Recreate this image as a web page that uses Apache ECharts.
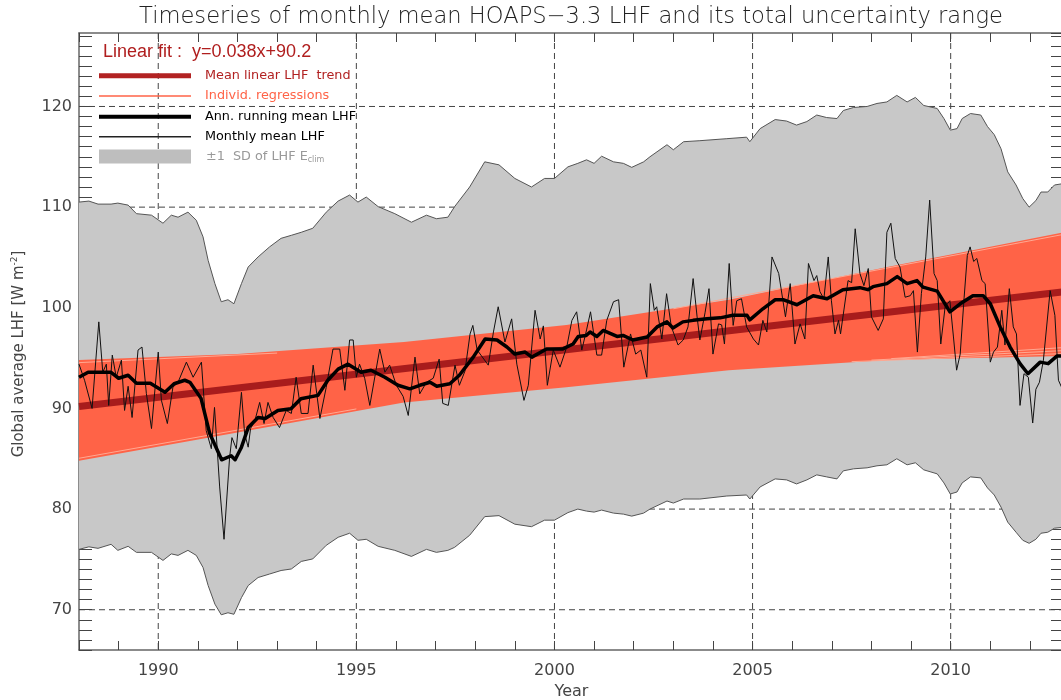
<!DOCTYPE html>
<html><head><meta charset="utf-8">
<script src="https://cdn.jsdelivr.net/npm/echarts@6/dist/echarts.min.js"></script>
<style>html,body{margin:0;padding:0;overflow:hidden;background:#fff}#c{width:1066px;height:700px}</style>
</head><body><div id="c"></div>
<script>
// ---------------- data ----------------
const xRange = [1988, 2012.86];
const yRange = [66, 127.3];
const gridYears = [1990, 1995, 2000, 2005, 2010];
const gridValues = [70, 80, 90, 100, 110, 120];

// ±1 SD band (upper / lower edge)
const bandX = [1988.00,1988.25,1988.48,1988.81,1988.98,1989.24,1989.45,1989.83,1990.12,1990.33,1990.50,1990.75,1990.96,1991.13,1991.26,1991.43,1991.59,1991.76,1991.91,1992.10,1992.27,1992.52,1992.81,1993.10,1993.36,1993.61,1993.90,1994.24,1994.54,1994.83,1995.04,1995.25,1995.55,1995.97,1996.39,1996.77,1997.02,1997.31,1997.48,1997.86,1998.24,1998.60,1999.00,1999.42,1999.75,2000.00,2000.34,2000.59,2000.81,2001.00,2001.19,2001.49,2001.74,2001.95,2002.25,2002.41,2002.84,2003.00,2003.26,2003.67,2004.35,2004.85,2004.93,2005.19,2005.57,2005.86,2006.11,2006.37,2006.62,2006.87,2007.13,2007.29,2007.55,2007.89,2008.14,2008.39,2008.64,2008.90,2009.11,2009.32,2009.66,2009.83,2009.99,2010.16,2010.29,2010.50,2010.76,2010.93,2011.10,2011.27,2011.44,2011.65,2011.82,2011.98,2012.15,2012.28,2012.45,2012.62,2012.86];
const bandUpper = [110.5,110.6,110.3,110.3,110.4,110.2,109.35,109.2,108.4,109.2,109.0,109.5,108.7,107.05,104.7,102.4,100.6,100.8,100.4,102.4,104.05,105.05,106.05,106.9,107.2,107.5,107.9,109.5,110.6,111.2,110.5,111.0,110.05,109.35,108.5,109.2,108.85,109.0,110.05,112.0,114.5,114.2,112.85,112.0,112.85,112.85,114.0,114.35,114.7,114.35,115.06,114.5,114.35,113.95,114.5,115.0,116.2,115.7,116.5,116.6,116.8,116.95,116.5,117.8,118.7,118.55,118.15,118.5,119.15,118.9,118.8,119.6,119.9,120.0,120.3,120.45,121.1,120.45,120.9,120.1,119.8,118.8,117.65,117.8,118.8,119.3,119.15,118.0,117.2,115.8,113.5,112.2,110.85,110.0,110.65,111.5,111.5,112.2,112.35];
const bandLower = [76.0,76.25,76.1,76.5,75.9,76.3,75.7,75.7,74.9,75.55,75.4,75.9,75.4,74.2,72.4,70.56,69.5,69.7,69.55,71.2,72.4,73.2,73.55,73.9,74.05,74.8,75.05,76.4,77.2,77.6,76.9,77.0,76.3,75.9,75.3,76.0,75.7,75.9,76.2,77.4,79.25,79.35,78.5,78.25,78.9,78.9,79.65,80.0,79.8,79.7,79.9,79.6,79.5,79.3,79.6,80.0,80.8,80.6,81.0,81.0,81.3,81.4,81.0,82.2,83.0,82.9,82.5,82.9,83.4,83.2,83.0,83.8,84.0,84.1,84.3,84.4,85.0,84.4,84.6,83.9,83.5,82.6,81.5,81.7,82.6,83.2,83.1,82.1,81.4,80.2,78.7,77.7,76.9,76.6,77.0,77.6,77.7,78.1,78.2];

// envelope of the individual regressions
const regX = [1988, 1992, 1996.2, 2000.3, 2004.4, 2008.4, 2012.86];
const regUpper = [94.8, 95.4, 96.6, 98.3, 100.8, 104.05, 107.5];
const regLower = [84.8, 87.6, 90.6, 92.1, 93.8, 94.8, 95.2];
// individual regression lines visible along the edges of the envelope
const regLineX0 = [1988, 1988, 2007.5, 2008.0, 2008.5, 2003.0];
const regLineY0 = [94.55, 85.05, 94.65, 94.8, 94.95, 99.9];
const regLineX1 = [1993, 1995, 2012.86, 2012.86, 2012.86, 2012.86];
const regLineY1 = [95.5, 89.95, 95.45, 95.75, 96.05, 107.3];

// mean linear trend (y = 0.038x + 90.2, x in months)
const trendX = [1988, 2012.86];
const trendY = [90.2, 101.6];

// monthly mean LHF
const monthlyX = [1988.00,1988.14,1988.33,1988.50,1988.60,1988.69,1988.75,1988.84,1988.94,1989.07,1989.15,1989.24,1989.34,1989.49,1989.59,1989.70,1989.83,1990.00,1990.08,1990.23,1990.37,1990.50,1990.71,1990.88,1991.09,1991.21,1991.34,1991.42,1991.55,1991.66,1991.80,1991.86,1991.97,1992.10,1992.18,1992.27,1992.33,1992.44,1992.56,1992.67,1992.77,1992.90,1993.06,1993.23,1993.36,1993.48,1993.61,1993.78,1993.91,1994.08,1994.24,1994.41,1994.58,1994.71,1994.83,1994.92,1995.00,1995.08,1995.21,1995.34,1995.59,1995.72,1995.84,1996.01,1996.18,1996.31,1996.48,1996.60,1996.77,1996.94,1997.09,1997.18,1997.32,1997.49,1997.60,1997.74,1997.87,1997.94,1998.05,1998.33,1998.46,1998.58,1998.75,1998.92,1999.05,1999.23,1999.34,1999.51,1999.64,1999.72,1999.82,1999.97,2000.14,2000.31,2000.44,2000.56,2000.69,2000.81,2000.91,2001.07,2001.19,2001.32,2001.49,2001.62,2001.75,2001.92,2002.05,2002.18,2002.33,2002.42,2002.52,2002.58,2002.71,2002.83,2002.95,2003.12,2003.25,2003.37,2003.50,2003.60,2003.67,2003.80,2003.90,2004.00,2004.14,2004.22,2004.29,2004.41,2004.51,2004.60,2004.72,2004.85,2005.02,2005.15,2005.26,2005.36,2005.49,2005.66,2005.83,2005.95,2006.07,2006.20,2006.32,2006.41,2006.55,2006.62,2006.70,2006.80,2006.91,2006.99,2007.08,2007.17,2007.22,2007.41,2007.50,2007.59,2007.71,2007.81,2007.92,2008.00,2008.17,2008.30,2008.39,2008.49,2008.60,2008.72,2008.85,2008.98,2009.06,2009.16,2009.26,2009.37,2009.47,2009.58,2009.66,2009.75,2009.86,2009.98,2010.07,2010.15,2010.24,2010.34,2010.42,2010.49,2010.58,2010.66,2010.79,2010.87,2011.00,2011.08,2011.18,2011.29,2011.37,2011.48,2011.58,2011.66,2011.75,2011.85,2011.96,2012.07,2012.15,2012.24,2012.34,2012.51,2012.63,2012.72,2012.80];
const monthlyY = [94.4,92.8,90.0,98.6,93.6,94.4,90.3,95.3,93.1,94.8,89.8,92.2,89.1,95.8,96.1,91.5,88.0,95.6,90.8,88.5,92.1,92.6,94.6,93.1,94.6,87.8,86.0,90.1,82.2,77.0,85.1,87.1,86.0,91.6,87.5,86.15,88.0,88.8,90.6,88.5,90.6,89.1,88.1,89.8,89.5,93.1,89.5,89.5,94.3,89.0,92.1,95.9,95.9,91.8,96.8,96.8,93.1,94.4,93.0,90.3,95.9,93.6,94.3,92.3,91.2,89.3,95.1,91.45,92.6,93.0,94.9,90.5,90.3,94.3,92.3,93.7,97.4,98.25,95.8,94.3,97.6,100.1,96.6,98.9,94.4,90.8,92.3,99.75,96.9,98.2,92.3,95.8,94.1,96.1,98.75,99.6,95.8,97.8,99.6,95.3,95.3,98.75,100.6,100.8,94.1,97.4,95.4,95.8,93.1,102.4,99.75,100.1,96.9,101.4,98.1,96.3,96.8,98.1,102.9,99.1,96.8,99.5,101.9,95.4,98.4,98.3,96.4,104.4,98.25,100.7,100.9,98.1,96.9,96.3,98.75,97.6,105.05,103.4,99.1,102.4,96.4,98.4,96.9,104.4,102.7,103.2,101.6,100.9,105.05,100.7,97.4,98.75,97.4,102.7,102.5,107.85,103.4,102.2,103.9,99.1,97.75,98.9,107.5,108.4,104.9,104.05,101.05,101.2,101.7,95.6,101.4,105.05,110.7,103.4,102.7,96.4,100.1,100.7,97.1,93.8,95.4,101.05,105.2,106.05,104.6,104.9,102.7,102.4,94.6,95.6,96.1,99.75,96.3,101.9,98.1,97.4,90.3,93.45,93.1,88.55,91.9,92.6,94.8,101.7,99.25,92.8,92.1];

// annual running mean LHF
const runX = [1988.00,1988.23,1988.80,1989.00,1989.24,1989.45,1989.80,1990.17,1990.40,1990.67,1990.80,1991.08,1991.30,1991.60,1991.84,1991.94,1992.10,1992.27,1992.52,1992.70,1993.02,1993.35,1993.60,1994.03,1994.28,1994.54,1994.79,1995.12,1995.37,1995.72,1996.05,1996.35,1996.60,1996.86,1997.03,1997.36,1997.60,1997.95,1998.25,1998.55,1998.80,1999.00,1999.26,1999.43,1999.80,2000.20,2000.47,2000.60,2000.80,2000.90,2001.07,2001.23,2001.58,2001.73,2001.98,2002.34,2002.59,2002.84,2002.99,2003.24,2003.50,2003.85,2004.18,2004.50,2004.86,2004.93,2005.26,2005.57,2005.77,2006.12,2006.53,2006.88,2007.28,2007.71,2007.91,2008.04,2008.39,2008.65,2008.90,2009.15,2009.30,2009.66,2009.98,2010.24,2010.56,2010.82,2011.00,2011.25,2011.50,2011.75,2011.95,2012.26,2012.46,2012.68,2012.86];
const runY = [93.1,93.6,93.6,93.0,93.3,92.5,92.5,91.6,92.45,92.8,92.6,91.0,87.5,84.9,85.3,84.9,86.15,88.1,89.1,89.0,89.8,89.96,90.96,91.3,92.8,93.9,94.4,93.6,93.8,93.1,92.3,91.95,92.3,92.6,92.2,92.45,93.3,95.1,96.9,96.8,96.1,95.4,95.6,95.1,95.9,95.9,96.4,97.15,97.25,97.6,97.15,97.75,97.15,97.25,96.8,97.1,98.1,98.6,98.0,98.6,98.75,98.9,99.0,99.25,99.25,98.8,99.9,100.8,100.8,100.3,101.2,100.9,101.8,102.0,101.8,102.1,102.4,103.1,102.4,102.7,102.05,101.65,99.6,100.4,101.2,101.2,100.4,98.1,96.1,94.45,93.45,94.6,94.45,95.2,95.2];

// ---------------- chart ----------------
const FONT = 'DejaVu Sans';
const zip = (a, b) => a.map((v, i) => [v, b[i]]);

function gridLineItem(vertical) {
  return function (params, api) {
    const cs = params.coordSys;
    const style = { stroke: '#444', lineWidth: 1, lineDash: [6, 4] };
    if (vertical) {
      const p = api.coord([api.value(0), yRange[0]]);
      return { type: 'line', silent: true, shape: { x1: p[0], y1: cs.y, x2: p[0], y2: cs.y + cs.height }, style };
    }
    const p = api.coord([xRange[0], api.value(1)]);
    return { type: 'line', silent: true, shape: { x1: cs.x, y1: p[1], x2: cs.x + cs.width, y2: p[1] }, style };
  };
}

function bandItem(xs, up, low, fill, stroke) {
  return function (params, api) {
    if (params.dataIndex !== 0) return null;
    const top = xs.map((x, i) => api.coord([x, up[i]]));
    const bot = xs.map((x, i) => api.coord([x, low[i]]));
    const children = [{ type: 'polygon', silent: true, shape: { points: top.concat(bot.slice().reverse()) }, style: { fill: fill } }];
    if (stroke) {
      children.push({ type: 'polyline', silent: true, shape: { points: top }, style: { stroke: stroke, lineWidth: 1, fill: null } });
      children.push({ type: 'polyline', silent: true, shape: { points: bot }, style: { stroke: stroke, lineWidth: 1, fill: null } });
    }
    return { type: 'group', children };
  };
}

const isMajor = (v, step) => Math.abs(v - Math.round(v)) < 1e-6 && Math.round(v) % step === 0;

const commonAxis = {
  type: 'value', interval: 1, splitLine: { show: false },
  axisLine: { show: true, onZero: false, lineStyle: { color: '#666', width: 1.5 } },
};

const regLines = regLineX0.map((x0, i) => ({
  type: 'line', data: [[x0, regLineY0[i]], [regLineX1[i], regLineY1[i]]], showSymbol: false, silent: true,
  lineStyle: { color: '#ffa892', width: 1 }, z: 4
}));

const option = {
  animation: false,
  backgroundColor: '#fff',
  grid: { left: 79, right: 2, top: 33, bottom: 50, containLabel: false, outerBoundsMode: 'none' },
  xAxis: [
    Object.assign({}, commonAxis, {
      min: xRange[0], max: xRange[1], position: 'bottom',
      axisTick: { show: true, inside: true, length: 9, lineStyle: { color: '#444' } },
      axisLabel: { fontFamily: FONT, fontSize: 16, color: '#444', margin: 13, showMaxLabel: false,
        formatter: v => isMajor(v, 5) ? String(Math.round(v)) : '' },
      name: 'Year', nameLocation: 'middle', nameGap: 31,
      nameTextStyle: { fontFamily: FONT, fontSize: 16, color: '#444' }
    }),
    Object.assign({}, commonAxis, {
      min: xRange[0], max: xRange[1], position: 'top',
      axisTick: { show: true, inside: true, length: 9, lineStyle: { color: '#444' } },
      axisLabel: { show: false }
    })
  ],
  yAxis: [
    Object.assign({}, commonAxis, {
      min: yRange[0], max: yRange[1], position: 'left',
      axisTick: { show: true, inside: true, length: 13, lineStyle: { color: '#444' } },
      axisLabel: { fontFamily: FONT, fontSize: 16, color: '#444', margin: 7, showMaxLabel: false,
        formatter: v => isMajor(v, 10) ? String(Math.round(v)) : '' }
    }),
    Object.assign({}, commonAxis, {
      min: yRange[0], max: yRange[1], position: 'right',
      axisTick: { show: true, inside: true, length: 13, lineStyle: { color: '#444' } },
      axisLabel: { show: false }
    })
  ],
  series: [
    { type: 'custom', renderItem: gridLineItem(true), data: gridYears.map(v => [v, yRange[0]]), z: 1, silent: true },
    { type: 'custom', renderItem: gridLineItem(false), data: gridValues.map(v => [xRange[0], v]), z: 1, silent: true },
    { type: 'custom', renderItem: bandItem(bandX, bandUpper, bandLower, '#c8c8c8', '#555'), data: [[xRange[0], yRange[0]]], z: 2, silent: true, clip: true },
    { type: 'custom', renderItem: bandItem(regX, regUpper, regLower, '#ff6347', null), data: [[xRange[0], yRange[0]]], z: 3, silent: true, clip: true },
    ...regLines,
    { type: 'line', data: zip(trendX, trendY), showSymbol: false, silent: true, lineStyle: { color: '#a81c1c', width: 7, cap: 'butt' }, z: 5 },
    { type: 'line', data: zip(monthlyX, monthlyY), showSymbol: false, silent: true, lineStyle: { color: '#111', width: 1 }, z: 6 },
    { type: 'line', data: zip(runX, runY), showSymbol: false, silent: true, lineStyle: { color: '#000', width: 3.5, join: 'round' }, z: 7 }
  ],
  graphic: [
    { type: 'text', z: 100, x: 571, y: 17, style: { text: 'Timeseries of monthly mean HOAPS\u22123.3 LHF and its total uncertainty range',
        fontFamily: FONT, fontSize: 22.6, fontWeight: 200, fill: '#222', align: 'center', verticalAlign: 'middle' } },
    { type: 'text', z: 100, x: 19, y: 354, rotation: Math.PI / 2, style: { text: 'Global average LHF [W m{sup|-2}]',
        fontFamily: FONT, fontSize: 15, fill: '#444', align: 'center', verticalAlign: 'middle',
        rich: { sup: { fontFamily: FONT, fontSize: 9, fill: '#444', verticalAlign: 'top', padding: [0, 0, 8, 0] } } } },
    { type: 'text', z: 100, x: 103, y: 52, style: { text: 'Linear fit :  y=0.038x+90.2', fontFamily: 'Liberation Sans', fontSize: 18, fill: '#b01e1e', verticalAlign: 'middle' } },
    { type: 'line', z: 100, shape: { x1: 99, y1: 75.7, x2: 191, y2: 75.7 }, style: { stroke: '#b22222', lineWidth: 5 } },
    { type: 'text', z: 100, x: 205, y: 75.7, style: { text: 'Mean linear LHF  trend', fontFamily: FONT, fontSize: 12.8, fill: '#b22222', verticalAlign: 'middle' } },
    { type: 'line', z: 100, shape: { x1: 99, y1: 96, x2: 191, y2: 96 }, style: { stroke: '#ff6347', lineWidth: 1.5 } },
    { type: 'text', z: 100, x: 205, y: 96, style: { text: 'Individ. regressions', fontFamily: FONT, fontSize: 12.8, fill: '#ff6347', verticalAlign: 'middle' } },
    { type: 'line', z: 100, shape: { x1: 99, y1: 116.7, x2: 191, y2: 116.7 }, style: { stroke: '#000', lineWidth: 4 } },
    { type: 'text', z: 100, x: 205, y: 116.7, style: { text: 'Ann. running mean LHF', fontFamily: FONT, fontSize: 12.8, fill: '#000', verticalAlign: 'middle' } },
    { type: 'line', z: 100, shape: { x1: 99, y1: 136.7, x2: 191, y2: 136.7 }, style: { stroke: '#222', lineWidth: 1.5 } },
    { type: 'text', z: 100, x: 205, y: 136.7, style: { text: 'Monthly mean LHF', fontFamily: FONT, fontSize: 12.8, fill: '#000', verticalAlign: 'middle' } },
    { type: 'rect', z: 100, shape: { x: 99, y: 149.5, width: 92, height: 14 }, style: { fill: '#bebebe' } },
    { type: 'text', z: 100, x: 206, y: 157, style: { text: '\u00b11  SD of LHF E{sub|clim}', fontFamily: FONT, fontSize: 12.8, fill: '#999', verticalAlign: 'middle',
        rich: { sub: { fontFamily: FONT, fontSize: 8, fill: '#999', verticalAlign: 'bottom', padding: [6, 0, 0, 0] } } } }
  ]
};

const chart = echarts.init(document.getElementById('c'));
chart.setOption(option);
</script></body></html>
